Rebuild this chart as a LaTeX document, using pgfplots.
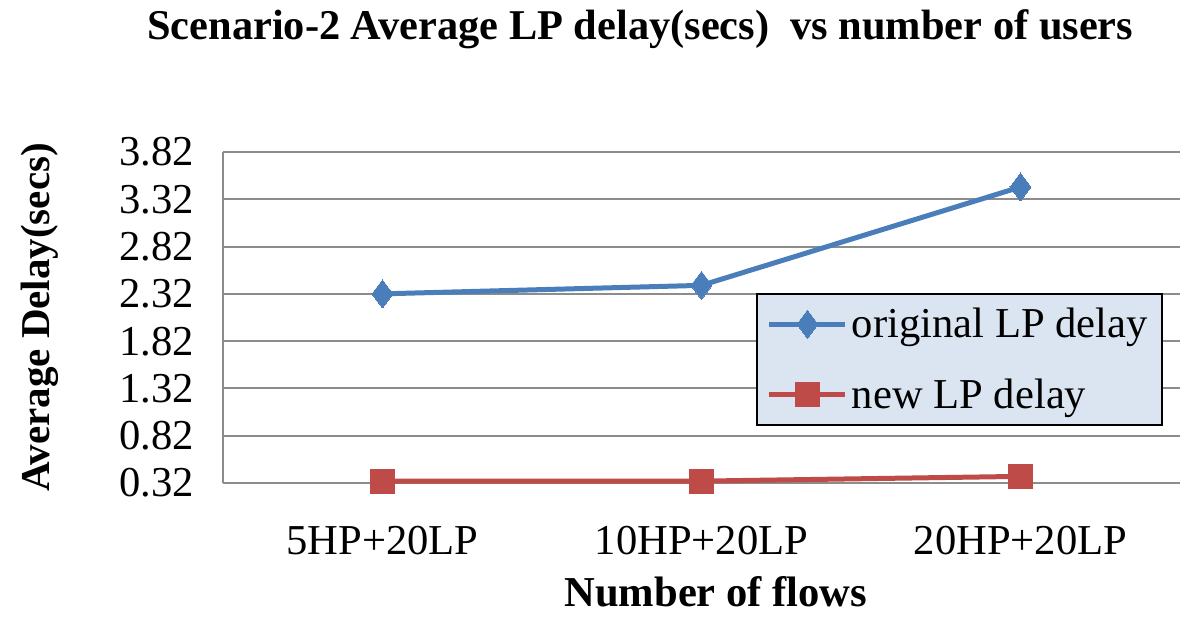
\documentclass[border=0pt]{standalone}
\usepackage{fontspec}
\setmainfont{Liberation Serif}
\usepackage{pgfplots}
\pgfplotsset{compat=1.18}
\definecolor{lpblue}{HTML}{4A7EBB}
\definecolor{lpred}{HTML}{BE4B48}
\definecolor{gridgray}{HTML}{8C8C8C}
\definecolor{legfill}{HTML}{DBE5F1}
\begin{document}
\begin{tikzpicture}
\begin{axis}[
scale only axis,
width=478.5pt, height=165.5pt,
xmin=-0.5, xmax=2.5,
ymin=0.32, ymax=3.82,
xtick={0,1,2},
xticklabels={5HP+20LP,10HP+20LP,20HP+20LP},
ytick={0.32,0.82,1.32,1.82,2.32,2.82,3.32,3.82},
yticklabels={0.32,0.82,1.32,1.82,2.32,2.82,3.32,3.82},
major tick length=0pt,
axis lines*=left,
axis line style={-, gridgray, line width=1pt},
ymajorgrids,
grid style={gridgray, line width=1pt},
tick label style={font=\fontsize{21.3}{23}\selectfont},
xticklabel style={yshift=-18pt},
yticklabel style={xshift=-11pt},
title={Scenario-2 Average LP delay(secs) \ vs number of users},
title style={font=\fontsize{21.2}{23}\selectfont\bfseries, at={(0.436,1)}, anchor=south, yshift=42pt},
xlabel={Number of flows},
xlabel style={font=\fontsize{21.3}{23}\selectfont\bfseries, at={(axis description cs:0.515,-0.329)}, anchor=center},
ylabel={Average Delay(secs)},
ylabel style={font=\fontsize{20.5}{23}\selectfont\bfseries, at={(axis description cs:-0.191,0.5)}, anchor=center},
legend style={at={(0.982,0.574)}, anchor=north east, fill=legfill, draw=black, line width=1pt,
  font=\fontsize{21.3}{23}\selectfont, row sep=15pt, inner sep=5pt},
legend cell align=left,
legend image code/.code={\draw[#1, mark repeat=2, mark phase=2] plot coordinates {(0pt,0pt) (19pt,0pt) (38pt,0pt)};},
]
\addplot[lpblue, line width=2.5pt, mark=diamond*, mark size=7pt, mark options={solid, fill=lpblue, draw=lpblue, line width=0pt}]
  coordinates {(0,2.32) (1,2.41) (2,3.45)};
\addlegendentry{original LP delay}
\addplot[lpred, line width=2.5pt, mark=square*, mark size=6pt, mark options={solid, fill=lpred, draw=lpred, line width=0pt}]
  coordinates {(0,0.34) (1,0.34) (2,0.39)};
\addlegendentry{new LP delay}
\end{axis}
\pgfresetboundingbox
\path (current axis.south west) ++(-111.5pt,-73pt) rectangle ++(600pt,314.5pt);
\end{tikzpicture}
\end{document}
